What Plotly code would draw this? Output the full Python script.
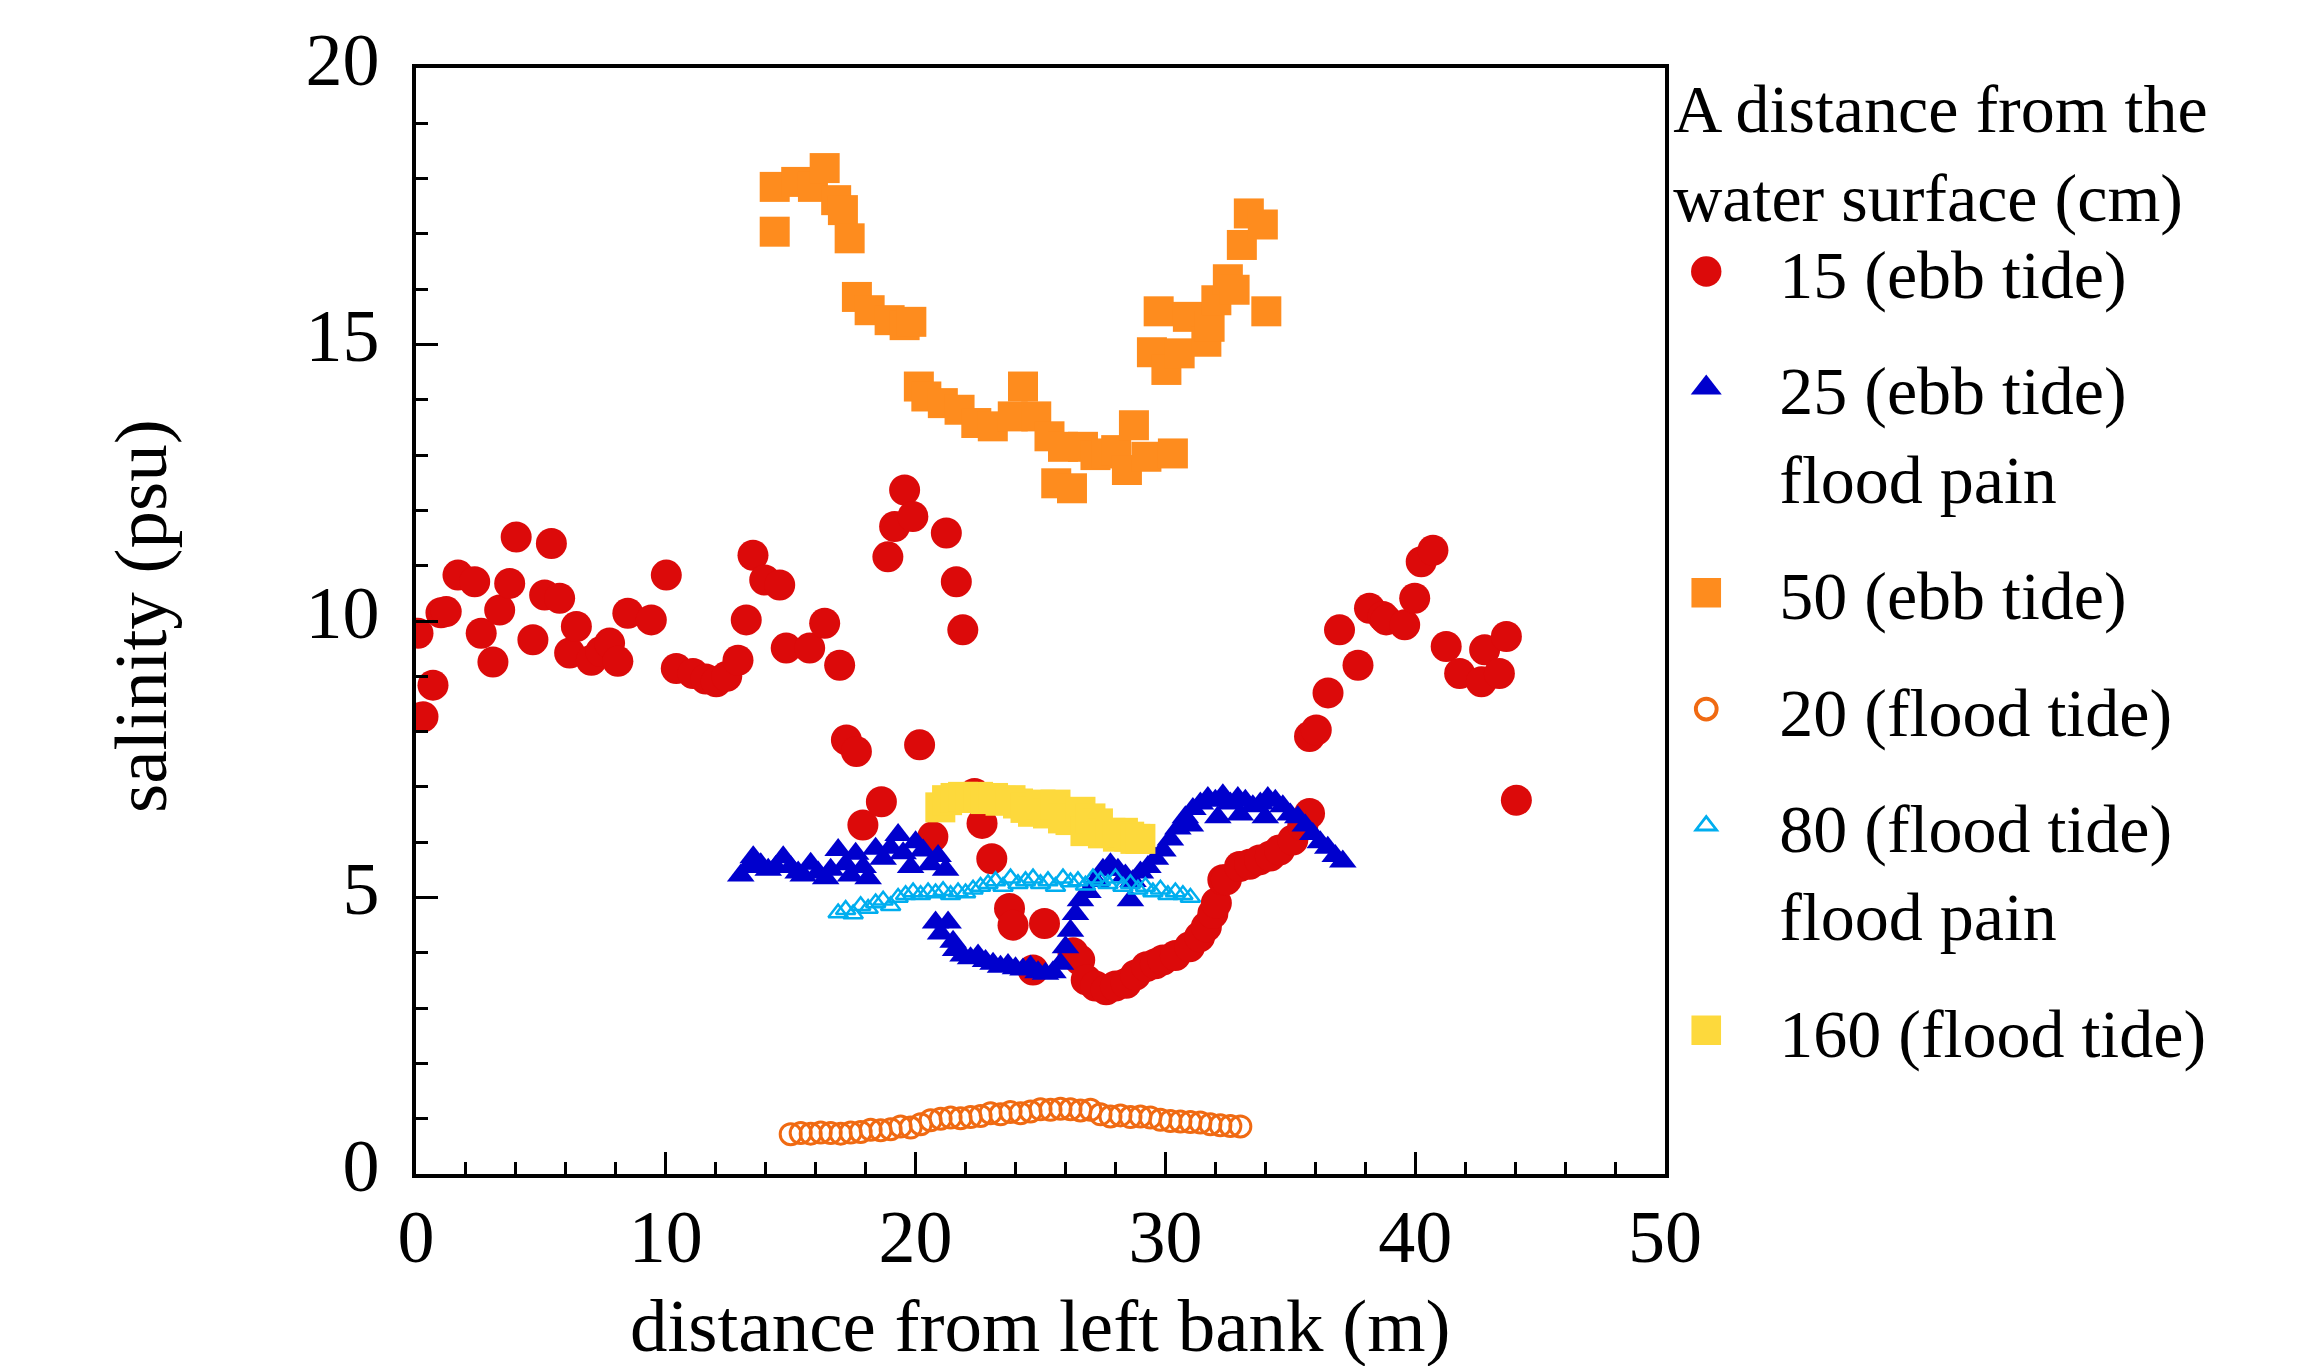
import plotly.graph_objects as go

# ---------------- data ----------------
# 15 cm (ebb tide)
x15 = [0.08, 0.28, 0.68, 1.0, 1.21, 1.68, 2.35, 2.61, 3.08, 3.35, 3.75, 4.01, 4.68, 5.15,
       5.42, 5.75, 6.15, 6.42, 7.02, 7.4, 7.75, 8.08, 8.48, 9.42, 10.02, 10.42, 11.09, 11.6,
       12.02, 12.44, 12.89, 13.22, 13.49, 13.96, 14.56, 14.82, 15.76, 16.36, 16.96, 17.23,
       17.63, 17.89, 18.63, 18.89, 19.16, 19.56, 19.89, 20.16, 20.69, 21.23, 21.63, 21.89,
       22.36, 22.66, 23.05, 23.76, 23.9, 24.7, 25.16, 26.3, 26.57, 26.83, 27.2, 27.63, 28.0,
       28.43, 28.8, 29.24, 29.6, 29.9, 30.4, 30.97, 31.37, 31.64, 31.9, 32.04, 32.3, 32.44,
       32.97, 33.37, 33.77, 34.2, 34.57, 35.1, 35.5, 35.77, 35.77, 36.04, 36.51, 36.97, 37.71,
       38.17, 38.71, 38.84, 39.58, 39.98, 40.24, 40.71, 41.24, 41.78, 42.65, 42.78, 43.37,
       43.65, 44.05]
y15 = [9.78, 8.27, 8.84, 10.15, 10.17, 10.83, 10.71, 9.78, 9.26, 10.2, 10.68, 11.52, 9.66, 10.47,
       11.4, 10.41, 9.42, 9.9, 9.29, 9.45, 9.6, 9.27, 10.14, 10.02, 10.83, 9.14, 9.05, 8.95,
       8.9, 9.0, 9.29, 10.02, 11.19, 10.74, 10.65, 9.51, 9.51, 9.96, 9.2, 7.85,
       7.64, 6.31, 6.73, 11.16, 11.71, 12.37, 11.89, 7.76, 6.1, 11.59, 10.71, 9.84,
       6.88, 6.34, 5.7, 4.8, 4.5, 3.69, 4.53, 4.0, 3.87, 3.51, 3.4, 3.33, 3.4,
       3.45, 3.6, 3.75, 3.8, 3.87, 3.95, 4.11, 4.29, 4.47, 4.71, 4.9, 5.32, 5.32,
       5.56, 5.6, 5.68, 5.75, 5.86, 6.04, 6.3, 6.52, 7.91, 8.03, 8.7, 9.84, 9.2,
       10.23, 10.08, 10.02, 9.93, 10.41, 11.07, 11.28, 9.54, 9.05, 8.9, 9.48, 9.05,
       9.72, 6.76]

# 25 cm (ebb tide) flood pain
x25 = [13.0, 13.3, 13.5, 13.8, 14.1, 14.4, 14.7, 15.0, 15.3, 15.5, 15.8, 16.1, 16.4, 16.6,
       16.9, 17.2, 17.4, 17.6, 17.9, 18.1, 18.4, 18.7, 19.0, 19.3, 19.5, 19.8, 20.0, 20.3,
       20.6, 20.9, 21.2, 20.8, 21.0, 21.3, 21.5, 21.6, 21.9, 22.2, 22.5, 22.8, 23.1, 23.4,
       23.7, 24.0, 24.3, 24.6, 24.9, 25.2, 25.5, 25.8, 26.0, 26.2, 26.4, 26.6, 26.9, 27.2,
       27.5, 27.8, 28.1, 28.4, 28.6, 28.7, 29.0, 29.3, 29.6, 29.9, 30.2, 30.5, 30.8, 31.0,
       31.1, 31.4, 31.7, 32.0, 32.1, 32.3, 32.6, 32.9, 33.0, 33.2, 33.5, 33.8, 34.0, 34.1,
       34.4, 34.7, 35.0, 35.3, 35.6, 35.9, 36.2, 36.5, 36.8, 37.1]
y25 = [5.4, 5.55, 5.73, 5.6, 5.5, 5.55, 5.73, 5.55, 5.45, 5.4, 5.61, 5.45, 5.35, 5.5,
       5.86, 5.6, 5.4, 5.79, 5.55, 5.35, 5.88, 5.7, 5.9, 6.13, 5.8, 5.55, 6.0, 5.85,
       5.6, 5.75, 5.5, 4.55, 4.35, 4.55, 4.2, 4.05, 3.95, 3.9, 3.95, 3.85, 3.8, 3.75,
       3.78, 3.72, 3.7, 3.75, 3.65, 3.62, 3.65, 3.8, 4.1, 4.4, 4.7, 4.95, 5.1, 5.3,
       5.5, 5.6, 5.5, 5.4, 4.95, 5.3, 5.45, 5.55, 5.7, 5.85, 6.05, 6.25, 6.45, 6.3,
       6.6, 6.7, 6.8, 6.75, 6.45, 6.85, 6.7, 6.8, 6.5, 6.75, 6.65, 6.7, 6.45, 6.8,
       6.75, 6.65, 6.5, 6.45, 6.3, 6.15, 6.0, 5.9, 5.75, 5.65]

# 50 cm (ebb tide)
x50 = [14.36, 14.36, 15.22, 15.89, 16.36, 16.82, 17.09, 17.36, 17.65, 18.16, 18.96, 19.56,
       19.83, 20.13, 20.43, 21.09, 21.76, 22.43, 23.09, 23.89, 24.3, 24.83, 25.36, 25.63,
       25.9, 26.26, 26.7, 27.2, 27.63, 28.03, 28.46, 28.74, 29.24, 30.3, 29.46, 29.73,
       30.04, 30.57, 30.9, 31.64, 31.77, 32.04, 32.5, 32.77, 33.06, 33.34, 33.9, 34.04]
y50 = [17.85, 17.04, 17.94, 17.85, 18.19, 17.61, 17.43, 16.92, 15.86, 15.62, 15.44, 15.35,
       15.41, 14.24, 14.06, 13.94, 13.82, 13.58, 13.52, 13.7, 14.24, 13.7, 13.34, 12.49,
       13.15, 12.4, 13.15, 13.0, 13.03, 13.09, 12.73, 13.54, 12.97, 13.03, 14.86, 15.6,
       14.54, 14.84, 15.5, 15.05, 15.32, 15.8, 16.18, 15.99, 16.8, 17.37, 17.17, 15.6]

# 20 cm (flood tide)
x20 = [15.0, 15.4, 15.8, 16.2, 16.6, 17.0, 17.4, 17.8, 18.2, 18.6, 19.0, 19.4, 19.8, 20.2,
       20.6, 21.0, 21.4, 21.8, 22.2, 22.6, 23.0, 23.4, 23.8, 24.2, 24.6, 25.0, 25.4, 25.8,
       26.2, 26.6, 27.0, 27.4, 27.8, 28.2, 28.6, 29.0, 29.4, 29.8, 30.2, 30.6, 31.0, 31.4,
       31.8, 32.2, 32.6, 33.0]
y20 = [0.72, 0.74, 0.73, 0.75, 0.74, 0.73, 0.75, 0.76, 0.8, 0.79, 0.81, 0.86, 0.84, 0.9,
       0.97, 1.0, 1.02, 1.01, 1.03, 1.05, 1.1, 1.08, 1.12, 1.1, 1.13, 1.17, 1.16, 1.18,
       1.17, 1.15, 1.16, 1.08, 1.04, 1.06, 1.03, 1.04, 1.02, 0.98, 0.96, 0.95, 0.94, 0.93,
       0.9, 0.88, 0.87, 0.86]

# 80 cm (flood tide) flood pain
x80 = [16.9, 17.2, 17.5, 17.8, 18.1, 18.4, 18.7, 19.0, 19.3, 19.6, 19.9, 20.2, 20.5, 20.8,
       21.1, 21.4, 21.7, 22.0, 22.3, 22.6, 22.9, 23.2, 23.5, 23.8, 24.1, 24.4, 24.7, 25.0,
       25.3, 25.6, 25.9, 26.2, 26.5, 26.8, 27.1, 27.4, 27.7, 28.0, 28.3, 28.6, 28.9, 29.2,
       29.5, 29.8, 30.1, 30.4, 30.7, 31.0]
y80 = [4.72, 4.78, 4.7, 4.85, 4.8, 4.9, 4.95, 4.85, 5.0, 5.05, 5.1, 5.05, 5.1, 5.08,
       5.12, 5.05, 5.1, 5.08, 5.15, 5.2, 5.25, 5.3, 5.2, 5.35, 5.25, 5.3, 5.35, 5.25,
       5.3, 5.2, 5.35, 5.28, 5.3, 5.22, 5.35, 5.3, 5.25, 5.35, 5.2, 5.25, 5.15, 5.2,
       5.1, 5.15, 5.05, 5.1, 5.05, 5.0]

# 160 cm (flood tide)
x160 = [20.99, 21.26, 21.6, 21.9, 22.2, 22.5, 22.8, 23.1, 23.4, 23.8, 24.1, 24.4, 24.7, 25.0,
        25.3, 25.6, 25.9, 26.2, 26.6, 26.8, 27.0, 27.3, 27.5, 27.8, 28.1, 28.3, 28.55, 28.8, 29.0]
y160 = [6.63, 6.76, 6.8, 6.82, 6.8, 6.82, 6.78, 6.8, 6.75, 6.76, 6.7, 6.62, 6.55, 6.68,
        6.52, 6.68, 6.43, 6.4, 6.55, 6.2, 6.43, 6.34, 6.16, 6.17, 6.1, 6.17, 6.1, 6.06, 6.06]

legend_names = ["15 (ebb tide)", "25 (ebb tide)<br>flood pain", "50 (ebb tide)",
                "20 (flood tide)", "80 (flood tide)<br>flood pain", "160 (flood tide)"]
legend_title = "A distance from the<br>water surface (cm)"
x_title = "distance from left bank (m)"
y_title = "salinity (psu)"

# ---------------- figure ----------------
FONT = "Liberation Serif, Times New Roman, serif"
RED, BLUE, ORANGE, ORANGE2, CYAN, YELLOW = "#dc0a0a", "#0000cd", "#fe8c1e", "#f06a12", "#00aeef", "#fdd93c"

fig = go.Figure()
fig.add_trace(go.Scatter(x=x15, y=y15, mode="markers", name=legend_names[0],
                         marker=dict(symbol="circle", size=31, color=RED, line=dict(width=0))))
fig.add_trace(go.Scatter(x=x25, y=y25, mode="markers", name=legend_names[1],
                         marker=dict(symbol="triangle-up", size=24, color=BLUE, line=dict(width=0))))
fig.add_trace(go.Scatter(x=x50, y=y50, mode="markers", name=legend_names[2],
                         marker=dict(symbol="square", size=30, color=ORANGE, line=dict(width=0))))
fig.add_trace(go.Scatter(x=x20, y=y20, mode="markers", name=legend_names[3],
                         marker=dict(symbol="circle-open", size=21, color=ORANGE2, line=dict(width=3, color=ORANGE2))))
fig.add_trace(go.Scatter(x=x80, y=y80, mode="markers", name=legend_names[4],
                         marker=dict(symbol="triangle-up-open", size=17, color=CYAN, line=dict(width=2.5, color=CYAN))))
fig.add_trace(go.Scatter(x=x160, y=y160, mode="markers", name=legend_names[5],
                         marker=dict(symbol="square", size=30, color=YELLOW, line=dict(width=0))))

axis_common = dict(showgrid=False, zeroline=False, showline=True, linecolor="black", linewidth=3.5,
                   mirror=True, ticks="inside", ticklen=22, tickwidth=3, tickcolor="black",
                   tickfont=dict(family=FONT, size=74, color="black"))
fig.update_xaxes(range=[0, 50], tick0=0, dtick=10, ticklabelstandoff=-5,
                 minor=dict(dtick=2, ticks="inside", ticklen=12, tickwidth=3, tickcolor="black"),
                 **axis_common)
fig.update_yaxes(range=[0, 20], tick0=0, dtick=5, ticklabelstandoff=18, ticklabelshift=-9,
                 minor=dict(dtick=1, ticks="inside", ticklen=12, tickwidth=3, tickcolor="black"),
                 **axis_common)

fig.add_annotation(text=x_title, xref="paper", yref="paper", x=0.5, y=-0.137,
                   xanchor="center", yanchor="middle", showarrow=False,
                   font=dict(family=FONT, size=75, color="black"))
fig.add_annotation(text=y_title, xref="paper", yref="paper", x=-0.221, y=0.5045, textangle=-90,
                   xanchor="center", yanchor="middle", showarrow=False,
                   font=dict(family=FONT, size=75, color="black"))

fig.update_layout(
    width=2311, height=1366,
    margin=dict(l=416, r=646, t=68, b=192, autoexpand=False),
    paper_bgcolor="white", plot_bgcolor="white",
    font=dict(family=FONT, color="black"),
    legend=dict(x=1.005, y=1.0217, xanchor="left", yanchor="top", maxheight=1340,
                title=dict(text=legend_title, font=dict(family=FONT, size=68)),
                font=dict(family=FONT, size=68, color="black"),
                valign="top", itemwidth=98, tracegroupgap=25,
                bgcolor="rgba(0,0,0,0)"),
)
for i, tr in enumerate(fig.data):
    tr.legendgroup = "g%d" % i

# enlarge the legend symbols (plotly caps them at 16 px) and nudge them left
post = """
document.body.style.margin='0';
var gd = document.getElementById('{plot_id}');
var scales = [1.9, 1.68, 1.85, 1.3, 1.12, 1.85];
var tr = gd.querySelectorAll('.legend .traces');
tr.forEach(function(t, i){
  t.querySelectorAll('.legendpoints path.scatterpts').forEach(function(p){
    var m = /translate\\(([-\\d.]+)/.exec(p.getAttribute('transform') || '');
    var x0 = m ? parseFloat(m[1]) : 20;
    p.setAttribute('transform', 'translate(' + (x0 - 19) + ',0) scale(' + scales[i] + ')');
  });
});
"""
fig.write_html("out.html", post_script=post, config={"displayModeBar": False})
